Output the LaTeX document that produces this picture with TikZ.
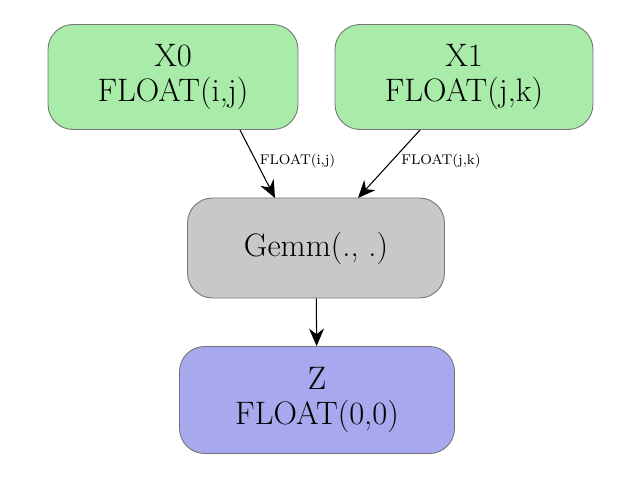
\documentclass[tikz,border=0pt]{standalone}
\usepackage{tikz}
\usetikzlibrary{arrows.meta}
\definecolor{inGreen}{HTML}{A9EBA9}
\definecolor{opGray}{HTML}{C8C8C8}
\definecolor{outBlue}{HTML}{A8A8EE}
\begin{document}
\begin{tikzpicture}[x=0.02cm, y=-0.02cm,
    box/.style={draw=black!55, line width=.5pt, rounded corners=0.5cm, align=center,
        font=\fontsize{18.5}{20}\selectfont, inner sep=0pt},
    lbl/.style={font=\fontsize{8}{9}\selectfont, inner sep=1pt},
    arr/.style={-{Stealth[length=3.5mm, width=3mm]}, line width=.6pt}]
    \useasboundingbox (0,0) rectangle (640,480);
    % Inputs
    \node[box, fill=inGreen, minimum width=5cm, minimum height=2.1cm] (X0) at (173,77) {X0\\FLOAT(i,j)};
    \node[box, fill=inGreen, minimum width=5.16cm, minimum height=2.1cm] (X1) at (464,77) {X1\\FLOAT(j,k)};
    % Operator
    \node[box, fill=opGray, minimum width=5.14cm, minimum height=2cm] (Gemm) at (316,248) {Gemm(., .)};
    % Output
    \node[box, fill=outBlue, minimum width=5.5cm, minimum height=2.14cm] (Z) at (317,400) {Z\\FLOAT(0,0)};
    % Arrows
    \coordinate (a0) at (240,130);
    \coordinate (b0) at (275,198);
    \coordinate (a1) at (420,130);
    \coordinate (b1) at (358,198);
    \draw[arr] (a0) -- (b0) node[lbl, pos=.45, right=1pt] {FLOAT(i,j)};
    \draw[arr] (a1) -- (b1) node[lbl, pos=.45, right=4pt] {FLOAT(j,k)};
    \draw[arr] (Gemm) -- (Z);
\end{tikzpicture}
\end{document}
